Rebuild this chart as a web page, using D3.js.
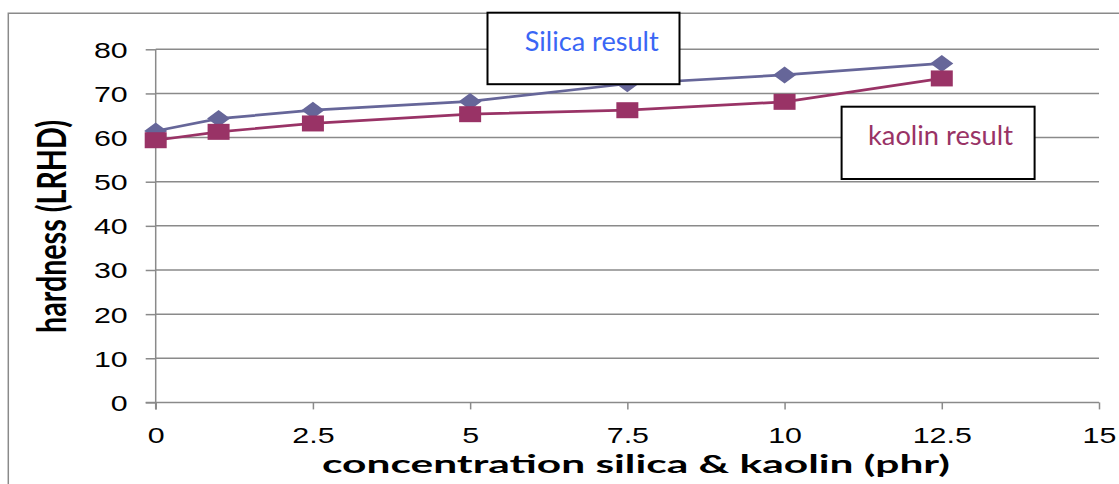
<!DOCTYPE html>
<html>
<head>
<meta charset="utf-8">
<script src="https://cdn.jsdelivr.net/npm/d3@7"></script>
<style>
  html, body { margin: 0; padding: 0; background: #fff; }
  svg { display: block; }
</style>
</head>
<body>
<svg id="chart" width="1119" height="484"></svg>
<script>
// ---- data ----
const concentrations = [0, 1, 2.5, 5, 7.5, 10, 12.5];
const silicaHardness = [61.5, 64.3, 66.2, 68.2, 72.2, 74.2, 76.8];
const kaolinHardness = [59.4, 61.3, 63.2, 65.3, 66.2, 68.1, 73.4];
const yTicks = [0, 10, 20, 30, 40, 50, 60, 70, 80];
const xTicks = [0, 2.5, 5, 7.5, 10, 12.5, 15];
const xTickLabels = ["0", "2.5", "5", "7.5", "10", "12.5", "15"];
const seriesNames = ["Silica result", "kaolin result"];
const xTitle = "concentration silica & kaolin (phr)";
const yTitle = "hardness (LRHD)";

const svg = d3.select("#chart");
const GRID = "#8a8a8a";
const STRETCH = 1.38;

const x = d3.scaleLinear().domain([0, 15]).range([155.7, 1099]);
const y = d3.scaleLinear().domain([0, 80]).range([402.4, 49.3]);

// outer chart border (left + top)
svg.append("path")
  .attr("d", "M8.3,484 V13.3 H1119")
  .attr("fill", "none").attr("stroke", GRID).attr("stroke-width", 1.5);

// gridlines
svg.append("g").selectAll("line").data(yTicks.filter(d => d > 0)).join("line")
  .attr("x1", x(0)).attr("x2", x(15))
  .attr("y1", d => y(d)).attr("y2", d => y(d))
  .attr("stroke", GRID).attr("stroke-width", 1.5);

function stretchText(sel, f) {
  sel.each(function () {
    const w = this.getComputedTextLength();
    this.setAttribute("textLength", w * f);
    this.setAttribute("lengthAdjust", "spacingAndGlyphs");
  });
}

// y axis
const yAxis = svg.append("g").attr("transform", `translate(${x(0)},0)`)
  .call(d3.axisLeft(y).tickValues(yTicks).tickSize(10).tickPadding(18).tickFormat(d3.format("d")));
yAxis.select(".domain").attr("stroke", GRID).attr("stroke-width", 1.5)
  .attr("d", `M0,${y(80)}V${y(0) + 7}`);
yAxis.selectAll(".tick line").attr("stroke", GRID).attr("stroke-width", 1.5);
yAxis.selectAll(".tick text")
  .attr("font-family", "'Liberation Sans', Arial, sans-serif")
  .attr("font-size", 22).attr("fill", "#000").attr("dy", "0.36em")
  .call(stretchText, STRETCH);

// x axis
const xAxis = svg.append("g").attr("transform", `translate(0,${y(0)})`)
  .call(d3.axisBottom(x).tickValues(xTicks).tickSize(7).tickPadding(18)
    .tickFormat((d, i) => xTickLabels[i]));
xAxis.select(".domain").attr("stroke", GRID).attr("stroke-width", 1.5)
  .attr("d", `M${x(0) - 10},0H${x(15)}`);
xAxis.selectAll(".tick line").attr("stroke", GRID).attr("stroke-width", 1.5);
xAxis.selectAll(".tick text")
  .attr("font-family", "'Liberation Sans', Arial, sans-serif")
  .attr("font-size", 22).attr("fill", "#000")
  .call(stretchText, STRETCH);

// axis titles
svg.append("text")
  .attr("x", 322).attr("y", 473)
  .attr("font-family", "Lato, 'Open Sans', sans-serif")
  .attr("font-weight", "bold").attr("font-size", 25).attr("fill", "#000")
  .attr("textLength", 628).attr("lengthAdjust", "spacingAndGlyphs")
  .text(xTitle);

svg.append("text")
  .attr("transform", "translate(66,226.5) scale(1.4,1) rotate(-90)")
  .attr("text-anchor", "middle")
  .attr("font-family", "Lato, 'Open Sans', sans-serif")
  .attr("font-weight", "bold").attr("font-size", 29).attr("fill", "#000")
  .attr("textLength", 213).attr("lengthAdjust", "spacingAndGlyphs")
  .text(yTitle);

// series
const series = [
  { values: silicaHardness, color: "#666699", shape: "diamond" },
  { values: kaolinHardness, color: "#993366", shape: "square" }
];
const line = d3.line().x(d => x(d[0])).y(d => y(d[1]));

series.forEach(s => {
  const pts = concentrations.map((c, i) => [c, s.values[i]]);
  const g = svg.append("g");
  g.append("path").attr("d", line(pts))
    .attr("fill", "none").attr("stroke", s.color).attr("stroke-width", 2.7);
  if (s.shape === "diamond") {
    g.selectAll("path.m").data(pts).join("path").attr("class", "m")
      .attr("d", d => {
        const cx = x(d[0]), cy = y(d[1]);
        return `M${cx - 11.5},${cy}L${cx},${cy - 8.5}L${cx + 11.5},${cy}L${cx},${cy + 8.5}Z`;
      })
      .attr("fill", s.color);
  } else {
    g.selectAll("rect.m").data(pts).join("rect").attr("class", "m")
      .attr("x", d => x(d[0]) - 11).attr("y", d => y(d[1]) - 8)
      .attr("width", 22).attr("height", 16)
      .attr("fill", s.color);
  }
});

// label boxes
const boxes = [
  { x: 487.5, y: 12.7, w: 192, h: 71.5, tx: 524.7, ty: 50.7, tl: 134, color: "#3a66f5", text: seriesNames[0] },
  { x: 841.6, y: 106.7, w: 193, h: 72.3, tx: 868, ty: 145, tl: 145, color: "#993366", text: seriesNames[1] }
];
boxes.forEach(b => {
  svg.append("rect").attr("x", b.x).attr("y", b.y).attr("width", b.w).attr("height", b.h)
    .attr("fill", "#fff").attr("stroke", "#000").attr("stroke-width", 2);
  svg.append("text").attr("x", b.tx).attr("y", b.ty)
    .attr("font-family", "Lato, 'Open Sans', sans-serif")
    .attr("font-size", 26).attr("fill", b.color)
    .attr("textLength", b.tl).attr("lengthAdjust", "spacingAndGlyphs")
    .text(b.text);
});
</script>
</body>
</html>
